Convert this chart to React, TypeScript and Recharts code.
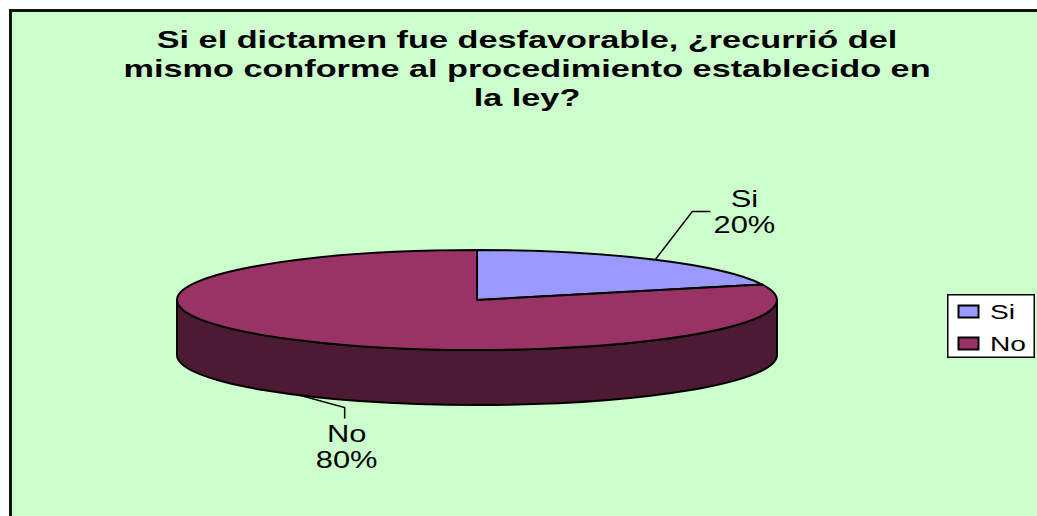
import React from 'react';
import { PieChart, Pie, Legend } from 'recharts';

const categories = ['Si', 'No'];
const values = [20, 80];
const colors = ['#9999FF', '#993366'];
const wallColor = '#4D1A33';
const titleLines = [
  'Si el dictamen fue desfavorable, ¿recurrió del',
  'mismo conforme al procedimiento establecido en',
  'la ley?',
];

const data = categories.map((name, i) => ({ name, value: values[i], fill: colors[i] }));

const FONT = '"Liberation Sans", Arial, sans-serif';
const SQUASH = 1 / 6; // pie is drawn flat, ry = rx * SQUASH
const DEPTH = 55;
const RAD = Math.PI / 180;

const px = (cx: number, r: number, a: number) => cx + r * Math.cos(a * RAD);
const py = (cy: number, r: number, a: number) => cy - r * SQUASH * Math.sin(a * RAD);

// the original picture was stretched sideways, so all text is too
const WideText = ({ x, y, size, bold, anchor = 'middle', stretch = 1.34, children }: any) => (
  <text
    transform={`translate(${x},${y}) scale(${stretch},1)`}
    textAnchor={anchor}
    fontFamily={FONT}
    fontWeight={bold ? 'bold' : 'normal'}
    fontSize={size}
    fill="#000"
  >
    {children}
  </text>
);

// flattened sector with its side wall, angles come from the Pie
const FlatSector = (props: any) => {
  const { cx, cy, outerRadius: r, startAngle, endAngle, fill } = props;
  const ry = r * SQUASH;
  const large = Math.abs(startAngle - endAngle) > 180 ? 1 : 0;
  const top = `M${cx},${cy} L${px(cx, r, startAngle)},${py(cy, r, startAngle)} A${r},${ry} 0 ${large} 1 ${px(cx, r, endAngle)},${py(cy, r, endAngle)} Z`;

  // only the front half of the wall can be seen
  const from = Math.max(endAngle, -180);
  const to = Math.min(startAngle, 0);
  const hasWall = from < to;
  const wall = hasWall
    ? `M${px(cx, r, from)},${py(cy, r, from)} L${px(cx, r, from)},${py(cy, r, from) + DEPTH} A${r},${ry} 0 0 0 ${px(cx, r, to)},${py(cy, r, to) + DEPTH} L${px(cx, r, to)},${py(cy, r, to)} A${r},${ry} 0 0 1 ${px(cx, r, from)},${py(cy, r, from)} Z`
    : '';

  return (
    <g>
      {hasWall && <path d={wall} fill={wallColor} stroke="#000" strokeWidth={2} strokeLinejoin="round" />}
      <path d={top} fill={fill} stroke="#000" strokeWidth={2} strokeLinejoin="round" />
    </g>
  );
};

// callout line plus the two line label
const renderLabel = (props: any) => {
  const { cx, cy, outerRadius: r, midAngle, name, percent } = props;
  const isFront = midAngle > 180 || midAngle < 0;
  const x0 = px(cx, r, midAngle);
  const y0 = py(cy, r, midAngle) + (isFront ? DEPTH : 0);
  const leader = isFront
    ? `${x0},${y0} ${x0 + 44},${y0 + 12} ${x0 + 44},${y0 + 23}`
    : `${x0 + 2},${y0} ${x0 + 39},${y0 - 48} ${x0 + 57},${y0 - 48}`;
  const tx = isFront ? x0 + 46 : x0 + 91;
  const ty = isFront ? y0 + 47 : y0 - 53;
  return (
    <g>
      <polyline points={leader} fill="none" stroke="#000" strokeWidth={1.5} />
      <WideText x={tx} y={ty} size={23}>{name}</WideText>
      <WideText x={tx} y={ty + 26} size={23}>{`${Math.round(percent * 100)}%`}</WideText>
    </g>
  );
};

const renderLegend = ({ payload }: any) => (
  <svg width={88} height={64} style={{ display: 'block' }}>
    <rect x={0.75} y={0.75} width={86.5} height={62.5} fill="#fff" stroke="#000" strokeWidth={1.5} />
    {(payload || []).map((entry: any, i: number) => (
      <g key={entry.value}>
        <rect x={11.5} y={11.5 + i * 32} width={20} height={12} fill={entry.payload?.fill ?? entry.color} stroke="#000" strokeWidth={2} />
        <WideText x={43} y={24.5 + i * 32} size={21} anchor="start">{entry.value}</WideText>
      </g>
    ))}
  </svg>
);

const App = () => {
  return (
    <div style={{ position: 'absolute', left: 0, top: 0, width: 1037, height: 516, overflow: 'hidden', background: '#fff' }}>
      <div
        style={{
          position: 'absolute',
          left: 9,
          top: 9,
          width: 1028,
          height: 507,
          boxSizing: 'border-box',
          background: '#CCFFCC',
          borderLeft: '3px solid #111',
          borderTop: '3px solid #111',
        }}
      />
      <div style={{ position: 'absolute', left: 0, top: 0 }}>
        <PieChart width={1037} height={516} margin={{ top: 0, right: 0, bottom: 0, left: 0 }}>
          {titleLines.map((line, i) => (
            <WideText key={line} x={527} y={48 + i * 29} size={23} bold stretch={1.49}>
              {line}
            </WideText>
          ))}
          <Pie
            data={data}
            dataKey="value"
            nameKey="name"
            cx={477}
            cy={300}
            outerRadius={300}
            startAngle={90}
            endAngle={-270}
            stroke="#000"
            shape={FlatSector}
            label={renderLabel}
            labelLine={false}
            isAnimationActive={false}
          />
          <Legend
            layout="vertical"
            align="right"
            verticalAlign="top"
            itemSorter={null}
            content={renderLegend}
            wrapperStyle={{ position: 'absolute', left: 947, top: 294, width: 88, height: 64 }}
          />
        </PieChart>
      </div>
    </div>
  );
};

export default App;
